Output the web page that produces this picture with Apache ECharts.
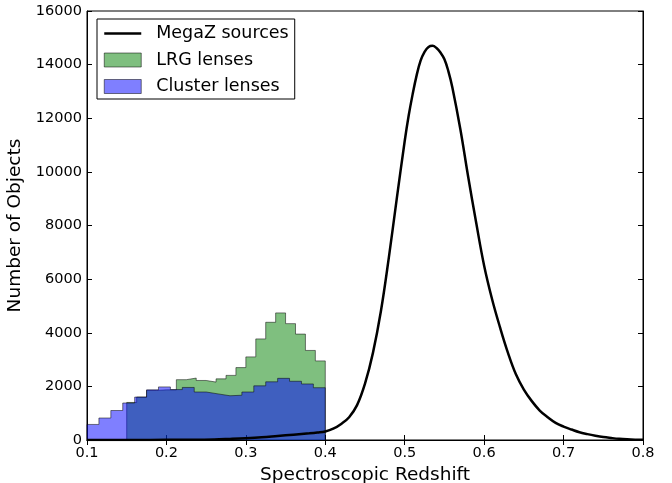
<!DOCTYPE html>
<html>
<head>
<meta charset="utf-8">
<script src="https://cdn.jsdelivr.net/npm/echarts@6/dist/echarts.min.js"></script>
<style>
html,body{margin:0;padding:0;background:#fff;}
#chart{width:672px;height:483px;}
</style>
</head>
<body>
<div id="chart"></div>
<script>
// Tick labels
const xTicks = [0.1, 0.2, 0.3, 0.4, 0.5, 0.6, 0.7, 0.8];
const yTicks = [0, 2000, 4000, 6000, 8000, 10000, 12000, 14000, 16000];

// Cluster lenses histogram (bin edges and counts)
const clusterEdges = [0.1, 0.115, 0.13, 0.145, 0.16, 0.175, 0.19, 0.205, 0.22, 0.235, 0.25, 0.265, 0.28, 0.295, 0.31, 0.325, 0.34, 0.355, 0.37, 0.385, 0.4];
const clusterCounts = [580, 820, 1100, 1380, 1600, 1870, 1980, 1880, 1960, 1790, 1720, 1650, 1670, 1790, 2020, 2170, 2300, 2190, 2090, 1950];

// LRG lenses histogram (bin edges and counts)
const lrgEdges = [0.15, 0.1625, 0.175, 0.1875, 0.2, 0.2125, 0.225, 0.2375, 0.25, 0.2625, 0.275, 0.2875, 0.3, 0.3125, 0.325, 0.3375, 0.35, 0.3625, 0.375, 0.3875, 0.4];
const lrgCounts = [1400, 1600, 1850, 1870, 1870, 2250, 2310, 2220, 2160, 2280, 2410, 2700, 3100, 3770, 4390, 4740, 4340, 3950, 3340, 2950];

// MegaZ sources curve
const megazZ = [0.10, 0.14, 0.18, 0.22, 0.26, 0.28, 0.30, 0.32, 0.34, 0.36, 0.38, 0.39, 0.40, 0.41, 0.42, 0.43, 0.44, 0.45, 0.46, 0.47, 0.48, 0.49, 0.50, 0.505, 0.51, 0.515, 0.52, 0.525, 0.53, 0.535, 0.54, 0.545, 0.55, 0.555, 0.56, 0.57, 0.58, 0.59, 0.60, 0.61, 0.62, 0.63, 0.64, 0.65, 0.66, 0.67, 0.68, 0.69, 0.70, 0.71, 0.72, 0.73, 0.74, 0.75, 0.76, 0.77, 0.78, 0.79, 0.80];
const megazCounts = [0, 1, 4, 10, 20, 40, 65, 100, 150, 200, 250, 280, 320, 420, 600, 850, 1300, 2100, 3250, 4800, 6800, 9000, 11150, 12100, 12900, 13600, 14150, 14480, 14660, 14700, 14620, 14450, 14200, 13750, 13150, 11600, 9800, 8100, 6500, 5250, 4200, 3250, 2450, 1880, 1450, 1100, 850, 640, 500, 390, 290, 220, 160, 110, 75, 45, 25, 12, 5];

function stepData(edges, counts) {
  const d = [[edges[0], 0]];
  for (let i = 0; i < counts.length; i++) d.push([edges[i], counts[i]]);
  d.push([edges[edges.length - 1], counts[counts.length - 1]]);
  d.push([edges[edges.length - 1], 0]);
  return d;
}

const FONT = 'DejaVu Sans';
const chart = echarts.init(document.getElementById('chart'), null, {renderer: 'canvas'});

const xMin = xTicks[0], xMax = xTicks[xTicks.length - 1];
const yMin = yTicks[0], yMax = yTicks[yTicks.length - 1];

const option = {
  backgroundColor: '#fff',
  animation: false,
  textStyle: {fontFamily: FONT, color: '#000'},
  grid: {left: 87, top: 11, width: 556, height: 429, containLabel: false, outerBoundsMode: 'none',
         show: true, borderColor: '#000', borderWidth: 1, backgroundColor: 'transparent'},
  legend: {
    orient: 'vertical', left: 97, top: 19,
    padding: [5, 6, 3, 6],
    itemWidth: 37, itemHeight: 14, itemGap: 7.5,
    backgroundColor: '#fff', borderColor: '#000', borderWidth: 1,
    textStyle: {fontFamily: FONT, fontSize: 17.5, color: '#000', lineHeight: 19, padding: [0, 0, 0, 10]},
    data: [
      {name: 'MegaZ sources', itemStyle: {opacity: 0}, lineStyle: {color: '#000', width: 2.5}},
      {name: 'LRG lenses', icon: 'rect', itemStyle: {color: 'rgba(0,128,0,0.5)', borderColor: 'rgba(0,0,0,0.5)', borderWidth: 1}},
      {name: 'Cluster lenses', icon: 'rect', itemStyle: {color: 'rgba(0,0,255,0.5)', borderColor: 'rgba(0,0,0,0.5)', borderWidth: 1}}
    ]
  },
  xAxis: [{
    type: 'value', min: xMin, max: xMax, interval: 0.1,
    name: 'Spectroscopic Redshift', nameLocation: 'middle', nameGap: 24,
    nameTextStyle: {fontFamily: FONT, fontSize: 18.5, color: '#000'},
    axisLine: {show: true, onZero: false, lineStyle: {color: '#000', width: 1}},
    axisTick: {show: true, inside: true, length: 5, lineStyle: {color: '#000'}},
    axisLabel: {fontFamily: FONT, fontSize: 14.5, color: '#000', margin: 6, formatter: v => v.toFixed(1)},
    splitLine: {show: false}
  }, {
    type: 'value', position: 'top', min: xMin, max: xMax, interval: 0.1,
    axisLine: {show: true, lineStyle: {color: '#000', width: 1}},
    axisTick: {show: true, inside: true, length: 5, lineStyle: {color: '#000'}},
    axisLabel: {show: false}, splitLine: {show: false}
  }],
  yAxis: [{
    type: 'value', min: yMin, max: yMax, interval: 2000,
    name: 'Number of Objects', nameLocation: 'middle', nameGap: 58,
    nameTextStyle: {fontFamily: FONT, fontSize: 18.5, color: '#000'},
    axisLine: {show: true, onZero: false, lineStyle: {color: '#000', width: 1}},
    axisTick: {show: true, inside: true, length: 5, lineStyle: {color: '#000'}},
    axisLabel: {fontFamily: FONT, fontSize: 14.5, color: '#000', margin: 5, formatter: v => String(v)},
    splitLine: {show: false}
  }, {
    type: 'value', position: 'right', min: yMin, max: yMax, interval: 2000,
    axisLine: {show: true, lineStyle: {color: '#000', width: 1}},
    axisTick: {show: true, inside: true, length: 5, lineStyle: {color: '#000'}},
    axisLabel: {show: false}, splitLine: {show: false}
  }],
  series: [
    {
      name: 'LRG lenses', type: 'line', step: 'end', symbol: 'none', z: 2,
      data: stepData(lrgEdges, lrgCounts),
      itemStyle: {color: 'rgba(0,128,0,0.5)'},
      lineStyle: {color: 'rgba(0,0,0,0.5)', width: 1},
      areaStyle: {color: 'rgba(0,128,0,0.5)', opacity: 1}
    },
    {
      name: 'Cluster lenses', type: 'line', step: 'end', symbol: 'none', z: 3,
      data: stepData(clusterEdges, clusterCounts),
      itemStyle: {color: 'rgba(0,0,255,0.5)'},
      lineStyle: {color: 'rgba(0,0,0,0.5)', width: 1},
      areaStyle: {color: 'rgba(0,0,255,0.5)', opacity: 1}
    },
    {
      name: 'MegaZ sources', type: 'line', symbol: 'none', z: 4,
      smooth: 0.4,
      data: megazZ.map((z, i) => [z, megazCounts[i]]),
      itemStyle: {color: '#000'},
      lineStyle: {color: '#000', width: 2.5}
    }
  ]
};
chart.setOption(option);
</script>
</body>
</html>
